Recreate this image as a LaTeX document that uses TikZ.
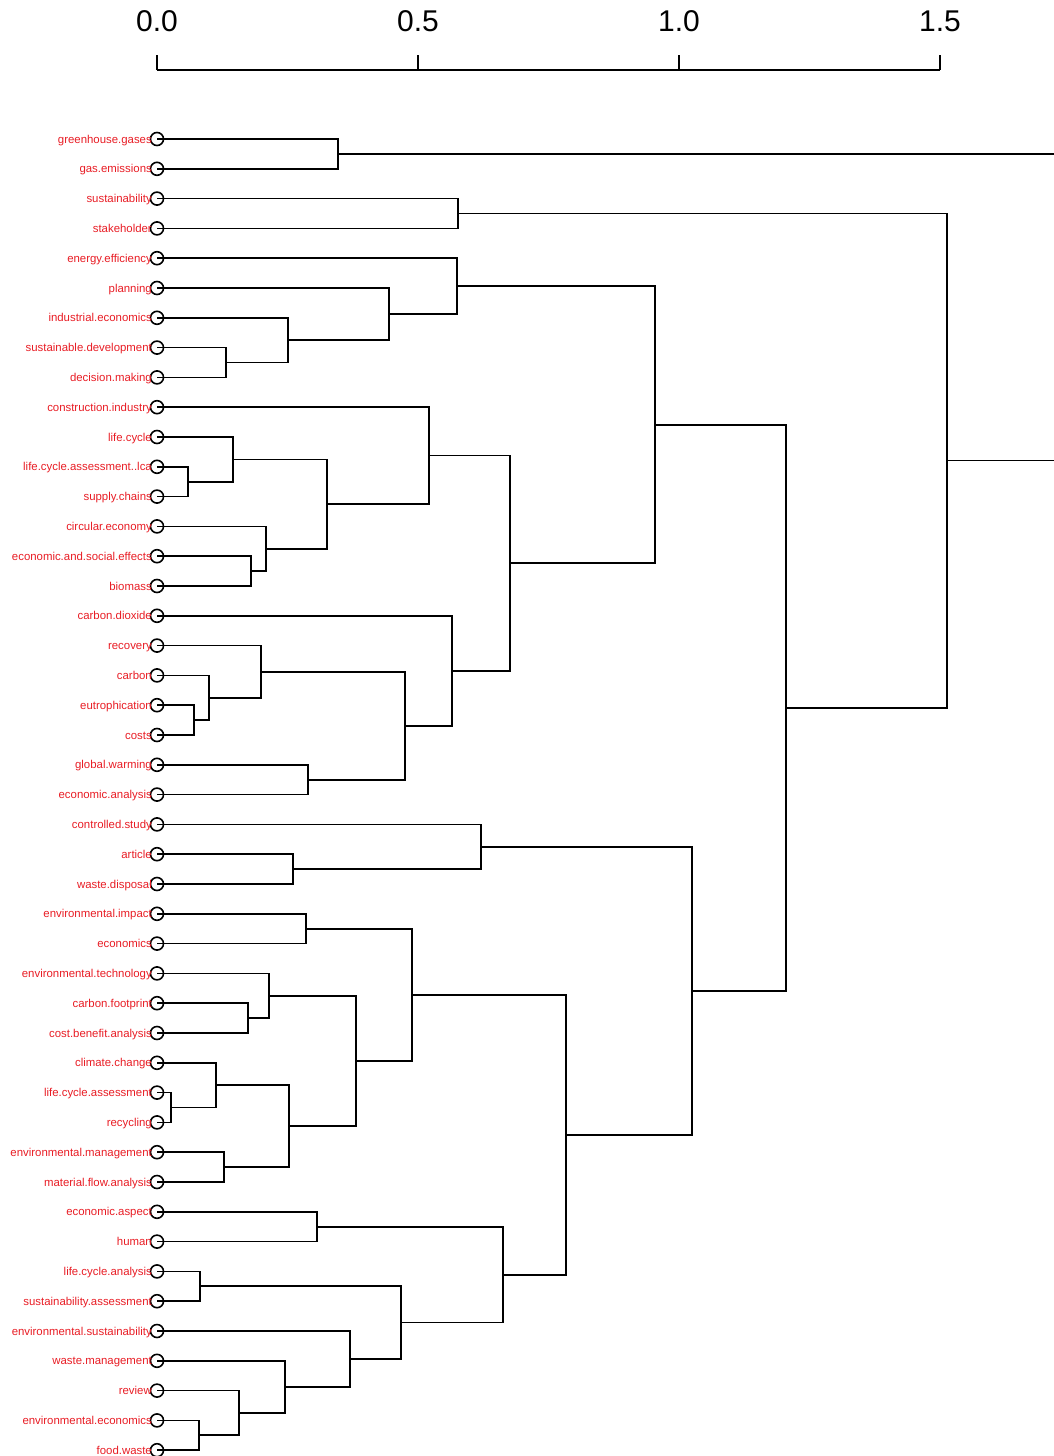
\documentclass[tikz,border=0pt]{standalone}
\usepackage{fontspec}
\setmainfont{Liberation Sans}
\usetikzlibrary{calc}
\definecolor{lblred}{RGB}{232,28,36}
\newcommand\dmerge[4]{%
  \coordinate (#1tmp) at ($(#3)!0.5!(#4)$);
  \coordinate (#1) at (#2,0 |- #1tmp);
  \draw[branch] (#3.center) -| (#1.center) |- (#4.center);}
\begin{document}
\begin{tikzpicture}[x=1pt,y=-1pt,
  branch/.style={line width=1.7pt,black},
  leaf/.style={circle,draw,line width=1.6pt,minimum size=13pt,inner sep=0pt},
  lbl/.style={text=lblred,font=\fontsize{11.4}{13}\selectfont,inner sep=0pt,anchor=mid east},
  axlbl/.style={font=\fontsize{30}{34}\selectfont,inner sep=0pt,anchor=base},
  axline/.style={line width=1.7pt,black}]
\useasboundingbox (0,0) rectangle (1054,1456);
% axis
\coordinate (a0) at (157,70);
\coordinate (a1) at (418,70);
\coordinate (a2) at (679,70);
\coordinate (a3) at (940,70);
\node[axlbl] (t0) at (157,31) {0.0};
\node[axlbl] (t1) at (418,31) {0.5};
\node[axlbl] (t2) at (679,31) {1.0};
\node[axlbl] (t3) at (940,31) {1.5};
\draw[axline] (a0) -- (a3);
\foreach \k in {0,1,2,3} { \draw[axline] (a\k) -- ++(0,-15); }
% leaves
\foreach \lab [count=\i] in {greenhouse.gases,gas.emissions,sustainability,stakeholder,energy.efficiency,planning,industrial.economics,sustainable.development,decision.making,construction.industry,life.cycle,life.cycle.assessment..lca,supply.chains,circular.economy,economic.and.social.effects,biomass,carbon.dioxide,recovery,carbon,eutrophication,costs,global.warming,economic.analysis,controlled.study,article,waste.disposal,environmental.impact,economics,environmental.technology,carbon.footprint,cost.benefit.analysis,climate.change,life.cycle.assessment,recycling,environmental.management,material.flow.analysis,economic.aspect,human,life.cycle.analysis,sustainability.assessment,environmental.sustainability,waste.management,review,environmental.economics,food.waste} {
  \node[leaf] (l\i) at (157,{139+29.8*(\i-1)}) {};
  \node[lbl] (n\i) at (152,{140.5+29.8*(\i-1)}) {\lab};
}
% merges
\dmerge{mA}{338}{l1}{l2}
\dmerge{mB}{458}{l3}{l4}
\dmerge{mC}{226}{l8}{l9}
\dmerge{mD}{288}{l7}{mC}
\dmerge{mE}{389}{l6}{mD}
\dmerge{mF}{457}{l5}{mE}
\dmerge{mG}{188}{l12}{l13}
\dmerge{mH}{233}{l11}{mG}
\dmerge{mI}{251}{l15}{l16}
\dmerge{mJ}{266}{l14}{mI}
\dmerge{mK}{327}{mH}{mJ}
\dmerge{mL}{429}{l10}{mK}
\dmerge{mM}{194}{l20}{l21}
\dmerge{mN}{209}{l19}{mM}
\dmerge{mO}{261}{l18}{mN}
\dmerge{mP}{308}{l22}{l23}
\dmerge{mQ}{405}{mO}{mP}
\dmerge{mR}{452}{l17}{mQ}
\dmerge{mS}{510}{mL}{mR}
\dmerge{mT}{655}{mF}{mS}
\dmerge{mU}{293}{l25}{l26}
\dmerge{mV}{481}{l24}{mU}
\dmerge{mW}{306}{l27}{l28}
\dmerge{mX}{248}{l30}{l31}
\dmerge{mY}{269}{l29}{mX}
\dmerge{mZ}{171}{l33}{l34}
\dmerge{mAA}{216}{l32}{mZ}
\dmerge{mAB}{224}{l35}{l36}
\dmerge{mAC}{289}{mAA}{mAB}
\dmerge{mAD}{356}{mY}{mAC}
\dmerge{mAE}{412}{mW}{mAD}
\dmerge{mAF}{317}{l37}{l38}
\dmerge{mAG}{200}{l39}{l40}
\dmerge{mAH}{199}{l44}{l45}
\dmerge{mAI}{239}{l43}{mAH}
\dmerge{mAJ}{285}{l42}{mAI}
\dmerge{mAK}{350}{l41}{mAJ}
\dmerge{mAL}{401}{mAG}{mAK}
\dmerge{mAM}{503}{mAF}{mAL}
\dmerge{mAN}{566}{mAE}{mAM}
\dmerge{mAO}{692}{mV}{mAN}
\dmerge{mAP}{786}{mT}{mAO}
\dmerge{mAQ}{947}{mB}{mAP}
% root branches leaving the picture
\coordinate (rA) at (1054,0 |- mA);
\coordinate (rQ) at (1054,0 |- mAQ);
\draw[branch] (mA.center) -- (rA);
\draw[branch] (mAQ.center) -- (rQ);
\end{tikzpicture}
\end{document}
